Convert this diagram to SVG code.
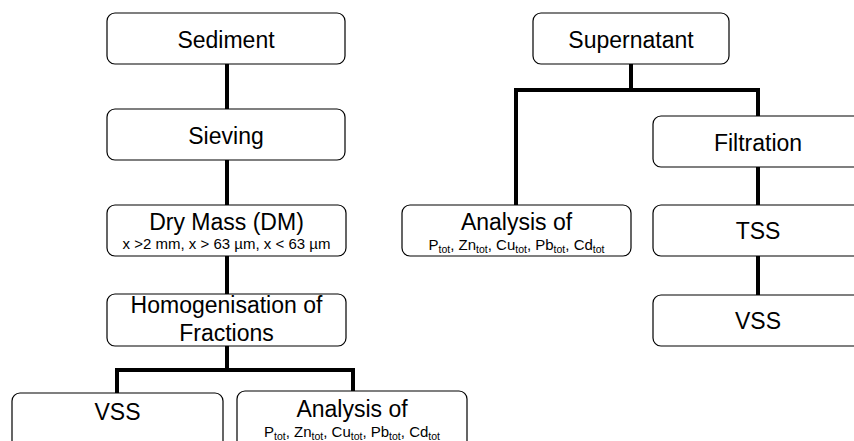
<svg xmlns="http://www.w3.org/2000/svg" width="854" height="441" viewBox="0 0 854 441">
<style>
.box{fill:#fff;stroke:#000;stroke-width:1.2}
.t{font-family:"Liberation Sans",Arial,sans-serif;font-size:23px;text-anchor:middle;fill:#000}
.s{font-family:"Liberation Sans",Arial,sans-serif;font-size:15px;text-anchor:middle;fill:#000}
.sub{font-size:10.5px}
.c{fill:none;stroke:#000;stroke-width:4}
</style>
<rect width="854" height="441" fill="#fff"/>
<g id="connectors">
<line class="c" x1="227" y1="64" x2="227" y2="109"/>
<line class="c" x1="227" y1="160" x2="227" y2="205"/>
<line class="c" x1="227" y1="256" x2="227" y2="294"/>
<polyline class="c" points="227,346 227,370"/>
<polyline class="c" points="117,393 117,370 353,370 353,391"/>
<line class="c" x1="631" y1="64" x2="631" y2="90"/>
<polyline class="c" points="516,205 516,90 758,90 758,116"/>
<line class="c" x1="758" y1="167" x2="758" y2="205"/>
<line class="c" x1="758" y1="256" x2="758" y2="295"/>
</g>
<g id="sediment"><rect class="box" x="107" y="13" width="238" height="51" rx="8"/><text class="t" x="226" y="47.5">Sediment</text></g>
<g id="sieving"><rect class="box" x="107" y="109" width="238" height="51" rx="8"/><text class="t" x="226" y="143.5">Sieving</text></g>
<g id="drymass"><rect class="box" x="107" y="205" width="239" height="51" rx="8"/><text class="t" x="226.5" y="230">Dry Mass (DM)</text><text class="s" x="226.5" y="249">x &gt;2 mm, x &gt; 63 µm, x &lt; 63 µm</text></g>
<g id="homogenisation"><rect class="box" x="107" y="294" width="239" height="52" rx="8"/><text class="t" x="226.5" y="313">Homogenisation of</text><text class="t" x="226.5" y="341">Fractions</text></g>
<g id="vss-left"><rect class="box" x="12" y="393" width="211" height="56" rx="8"/><text class="t" x="117.5" y="420">VSS</text></g>
<g id="analysis-left"><rect class="box" x="237" y="391" width="230" height="58" rx="8"/><text class="t" x="352" y="417">Analysis of</text><text class="s" x="352" y="437">P<tspan class="sub" dy="3">tot</tspan><tspan dy="-3">, Zn</tspan><tspan class="sub" dy="3">tot</tspan><tspan dy="-3">, Cu</tspan><tspan class="sub" dy="3">tot</tspan><tspan dy="-3">, Pb</tspan><tspan class="sub" dy="3">tot</tspan><tspan dy="-3">, Cd</tspan><tspan class="sub" dy="3">tot</tspan></text></g>
<g id="supernatant"><rect class="box" x="533" y="13" width="196" height="51" rx="8"/><text class="t" x="631" y="47.5">Supernatant</text></g>
<g id="analysis-right"><rect class="box" x="402" y="205" width="229" height="51" rx="8"/><text class="t" x="516.5" y="230">Analysis of</text><text class="s" x="516.5" y="250">P<tspan class="sub" dy="3">tot</tspan><tspan dy="-3">, Zn</tspan><tspan class="sub" dy="3">tot</tspan><tspan dy="-3">, Cu</tspan><tspan class="sub" dy="3">tot</tspan><tspan dy="-3">, Pb</tspan><tspan class="sub" dy="3">tot</tspan><tspan dy="-3">, Cd</tspan><tspan class="sub" dy="3">tot</tspan></text></g>
<g id="filtration"><rect class="box" x="653" y="116" width="210" height="51" rx="8"/><text class="t" x="758" y="150.5">Filtration</text></g>
<g id="tss"><rect class="box" x="653" y="205" width="210" height="51" rx="8"/><text class="t" x="758" y="239">TSS</text></g>
<g id="vss-right"><rect class="box" x="653" y="295" width="210" height="51" rx="8"/><text class="t" x="758" y="329">VSS</text></g>
</svg>
